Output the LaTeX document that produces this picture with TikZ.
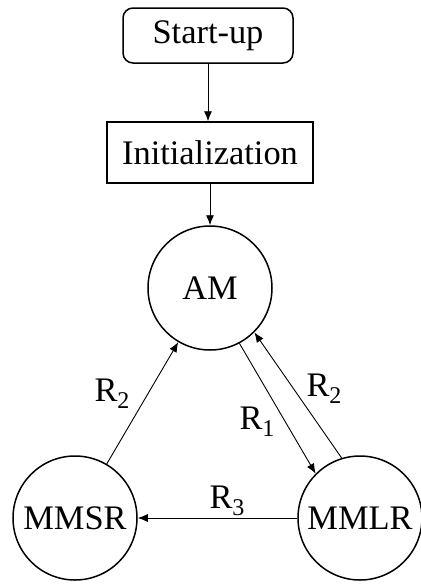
\documentclass[tikz,border=0pt]{standalone}
\usepackage{fontspec}
\setmainfont{Liberation Serif}
\usetikzlibrary{arrows.meta}

\newcommand{\idx}[1]{\raisebox{-0.45ex}{\fontsize{12}{12}\selectfont #1}}

\begin{document}
\begin{tikzpicture}[x=0.5pt,y=-0.5pt,
	box/.style={draw,line width=0.75pt,inner sep=0pt,font=\fontsize{17.2}{20}\selectfont},
	mode/.style={draw,circle,line width=0.75pt,inner sep=0pt,minimum size=62pt,font=\fontsize{17.2}{20}\selectfont},
	trans/.style={-{Latex[length=5pt,width=4pt]},line width=0.45pt},
	lbl/.style={inner sep=0pt,font=\fontsize{17.2}{20}\selectfont}]
	\useasboundingbox (0,0) rectangle (420,584);

	% start-up and initialization
	\node[box,rounded corners=5pt,minimum width=85pt,minimum height=27.5pt] (start) at (208,35.5) {Start-up};
	\node[box,minimum width=103pt,minimum height=30.5pt] (init) at (210,152.5) {Initialization};

	% modes
	\node[mode] (am) at (210,288) {AM};
	\node[mode] (mmsr) at (75,518) {MMSR};
	\node[mode] (mmlr) at (360,518) {MMLR};

	% flow
	\draw[trans] (start) -- (start |- init.north);
	\draw[trans] (init) -- (am);

	% transitions
	\draw[trans] (mmsr) -- (am);
	\draw[trans] (am.-62) -- (mmlr.135);
	\draw[trans] (mmlr.107) -- (am.-45);
	\draw[trans] (mmlr) -- (mmsr);

	\node[lbl] (r2l) at (112,394) {R\idx{2}};
	\node[lbl] (r1) at (257,422) {R\idx{1}};
	\node[lbl] (r2r) at (324,389) {R\idx{2}};
	\node[lbl] (r3) at (227,501) {R\idx{3}};
\end{tikzpicture}
\end{document}
